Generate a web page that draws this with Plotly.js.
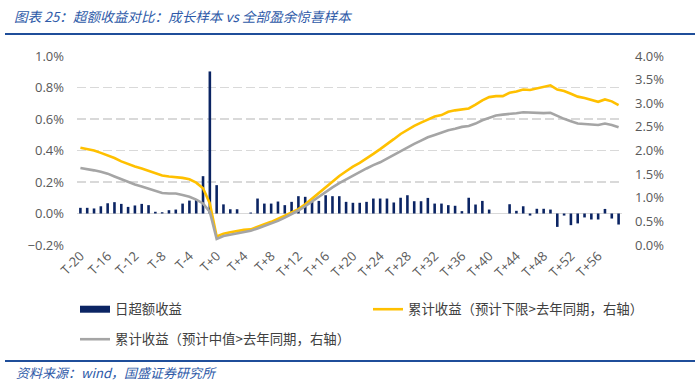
<!DOCTYPE html>
<html>
<head>
<meta charset="utf-8">
<script src="https://cdn.plot.ly/plotly-3.0.1.min.js"></script>
<style>
  html, body { margin: 0; padding: 0; background: #ffffff; }
  #chart { width: 700px; height: 381px; }
</style>
</head>
<body>
<div id="chart"></div>
<script>
// ---------- DATA ----------
const categories = [
  "T-20","T-19","T-18","T-17","T-16","T-15","T-14","T-13","T-12","T-11",
  "T-10","T-9","T-8","T-7","T-6","T-5","T-4","T-3","T-2","T-1",
  "T+0","T+1","T+2","T+3","T+4","T+5","T+6","T+7","T+8","T+9",
  "T+10","T+11","T+12","T+13","T+14","T+15","T+16","T+17","T+18","T+19",
  "T+20","T+21","T+22","T+23","T+24","T+25","T+26","T+27","T+28","T+29",
  "T+30","T+31","T+32","T+33","T+34","T+35","T+36","T+37","T+38","T+39",
  "T+40","T+41","T+42","T+43","T+44","T+45","T+46","T+47","T+48","T+49",
  "T+50","T+51","T+52","T+53","T+54","T+55","T+56","T+57","T+58","T+59"
];

const tickLabels = [
  "T-20","T-16","T-12","T-8","T-4","T+0","T+4","T+8","T+12","T+16",
  "T+20","T+24","T+28","T+32","T+36","T+40","T+44","T+48","T+52","T+56"
];

// 日超额收益 (%), left axis
const dailyExcess = [
  0.036, 0.036, 0.032, 0.046, 0.065, 0.072, 0.061, 0.042, 0.051, 0.061,
  0.053, 0.011, 0.008, 0.021, 0.025, 0.063, 0.082, 0.091, 0.237, 0.902,
  0.180, 0.058, 0.027, 0.027, 0.000, 0.006, 0.095, 0.063, 0.063, 0.076,
  0.053, 0.074, 0.110, 0.106, 0.078, 0.080, 0.116, 0.110, 0.110, 0.074,
  0.068, 0.068, 0.074, 0.095, 0.095, 0.095, 0.070, 0.100, 0.116, 0.078,
  0.078, 0.099, 0.063, 0.063, 0.053, 0.049, 0.015, 0.100, 0.057, 0.080,
  0.025, 0.000, 0.000, 0.059, 0.017, 0.046, -0.013, 0.030, 0.030, 0.025,
  -0.085, -0.013, -0.074, -0.063, -0.025, -0.038, -0.038, 0.029, -0.032, -0.070
];

// 累计收益（预计下限>去年同期，右轴） (%)
const cumLower = [
  2.06, 2.03, 2.00, 1.95, 1.90, 1.84, 1.77, 1.71, 1.66, 1.62,
  1.57, 1.51, 1.47, 1.45, 1.44, 1.42, 1.39, 1.32, 1.20, 0.88,
  0.18, 0.24, 0.27, 0.30, 0.32, 0.33, 0.39, 0.44, 0.49, 0.55,
  0.62, 0.69, 0.76, 0.86, 0.98, 1.09, 1.22, 1.35, 1.46, 1.56,
  1.66, 1.74, 1.83, 1.93, 2.03, 2.13, 2.24, 2.35, 2.44, 2.52,
  2.59, 2.65, 2.72, 2.75, 2.82, 2.85, 2.87, 2.89, 2.97, 3.06,
  3.13, 3.15, 3.15, 3.22, 3.25, 3.29, 3.28, 3.31, 3.35, 3.38,
  3.29, 3.26, 3.20, 3.14, 3.11, 3.07, 3.03, 3.08, 3.04, 2.96
];

// 累计收益（预计中值>去年同期，右轴） (%)
const cumMedian = [
  1.63, 1.61, 1.58, 1.55, 1.51, 1.45, 1.39, 1.33, 1.28, 1.24,
  1.19, 1.14, 1.10, 1.09, 1.09, 1.06, 1.02, 0.96, 0.88, 0.70,
  0.13, 0.19, 0.22, 0.25, 0.27, 0.30, 0.35, 0.40, 0.46, 0.51,
  0.58, 0.65, 0.73, 0.82, 0.92, 1.02, 1.13, 1.22, 1.31, 1.39,
  1.47, 1.55, 1.62, 1.69, 1.75, 1.83, 1.91, 1.99, 2.07, 2.14,
  2.21, 2.28, 2.33, 2.38, 2.43, 2.46, 2.50, 2.52, 2.57, 2.64,
  2.69, 2.74, 2.76, 2.77, 2.79, 2.81, 2.80, 2.79, 2.79, 2.80,
  2.73, 2.67, 2.62, 2.57, 2.56, 2.55, 2.54, 2.57, 2.54, 2.49
];

const seriesNames = [
  "日超额收益",
  "累计收益（预计下限>去年同期，右轴）",
  "累计收益（预计中值>去年同期，右轴）"
];

// ---------- STYLE ----------
const NAVY = "#0B2463";
const GOLD = "#FFC000";
const GRAY = "#A5A5A5";
const BLUE = "#2E5AA8";
const tickFont = { family: "Open Sans, Liberation Sans, sans-serif", size: 13, color: "#595959" };
const cjkFont = "Noto Sans CJK SC, sans-serif";

// plot area in pixels: x 77..622, y 56..245
const L = 77, R = 622, T = 56, B = 245;
const px2x = p => (p - L) / (R - L);
const px2y = p => (B - p) / (B - T);

const traces = [
  {
    type: "bar", x: categories, y: dailyExcess, name: seriesNames[0],
    marker: { color: NAVY }, yaxis: "y", showlegend: false, hoverinfo: "x+y"
  },
  { // legend proxy for bar series (wide rectangle swatch)
    type: "scatter", mode: "lines", x: [null], y: [null], name: seriesNames[0],
    line: { color: NAVY, width: 7 }, yaxis: "y", legend: "legend"
  },
  {
    type: "scatter", mode: "lines", x: categories, y: cumLower, name: seriesNames[1],
    line: { color: GOLD, width: 2.6 }, yaxis: "y2", legend: "legend"
  },
  {
    type: "scatter", mode: "lines", x: categories, y: cumMedian, name: seriesNames[2],
    line: { color: GRAY, width: 2.6 }, yaxis: "y2", legend: "legend2"
  }
];

const legendFont = { family: cjkFont, size: 13.4, color: "#404040" };

const layout = {
  width: 700, height: 381,
  paper_bgcolor: "#ffffff", plot_bgcolor: "#ffffff",
  margin: { l: L, r: 700 - R, t: T, b: 381 - B, pad: 0 },
  bargap: 0.62,
  title: {
    text: "图表 25：超额收益对比：成长样本 vs 全部盈余惊喜样本",
    x: 14 / 700, xanchor: "left", xref: "container",
    y: 1 - 17 / 381, yanchor: "middle", yref: "container",
    font: { family: cjkFont, size: 13.6, color: BLUE, style: "italic" }
  },
  xaxis: {
    type: "category", range: [-0.5, categories.length - 0.5],
    tickmode: "array", tickvals: tickLabels, ticktext: tickLabels,
    tickangle: -45, tickfont: tickFont,
    showgrid: false, showline: false, zeroline: false, ticks: ""
  },
  yaxis: {
    range: [-0.2, 1.0], tick0: 0, dtick: 0.2, tickformat: ".1f", ticksuffix: "%",
    tickfont: tickFont, ticklabelstandoff: 12,
    showgrid: true, gridcolor: "#D9D9D9", gridwidth: 1.3, griddash: "9px,4px",
    zeroline: true, zerolinecolor: "#D9D9D9", zerolinewidth: 1.3,
    showline: false, ticks: ""
  },
  yaxis2: {
    overlaying: "y", side: "right",
    range: [0, 4.0], tick0: 0, dtick: 0.5, tickformat: ".1f", ticksuffix: "%",
    tickfont: tickFont, ticklabelstandoff: 12,
    showgrid: false, zeroline: false, showline: false, ticks: ""
  },
  legend: {
    orientation: "h", x: px2x(75), xanchor: "left", y: px2y(294), yanchor: "top",
    entrywidth: 248, entrywidthmode: "pixels",
    font: legendFont, bgcolor: "rgba(0,0,0,0)", traceorder: "normal"
  },
  legend2: {
    orientation: "h", x: px2x(75), xanchor: "left", y: px2y(324), yanchor: "top",
    font: legendFont, bgcolor: "rgba(0,0,0,0)"
  },
  shapes: [
    { type: "line", xref: "paper", yref: "paper",
      x0: px2x(5), x1: px2x(695), y0: px2y(34), y1: px2y(34),
      line: { color: "#1F4E9A", width: 2 } },
    { type: "line", xref: "paper", yref: "paper",
      x0: px2x(5), x1: px2x(695), y0: px2y(361), y1: px2y(361),
      line: { color: "#1F4E9A", width: 2 } }
  ],
  annotations: [
    { text: "资料来源：wind，国盛证券研究所", xref: "paper", yref: "paper",
      x: px2x(14), y: px2y(372), xanchor: "left", yanchor: "middle", showarrow: false,
      font: { family: cjkFont, size: 13, color: BLUE, style: "italic" } }
  ],
  hovermode: false
};

Plotly.newPlot("chart", traces, layout, { staticPlot: true, displayModeBar: false });
</script>
</body>
</html>
